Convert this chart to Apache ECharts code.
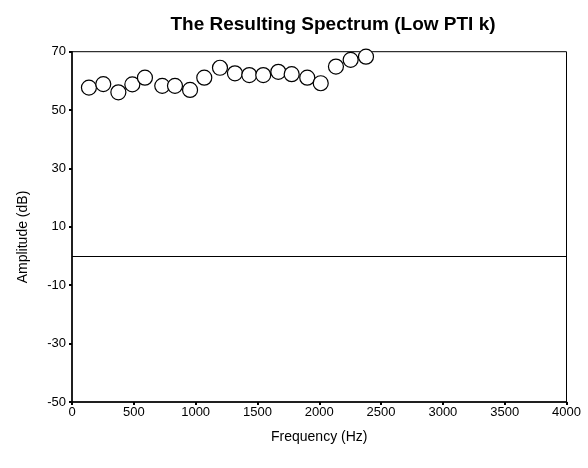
<!DOCTYPE html>
<html>
<head>
<meta charset="utf-8">
<script src="https://cdn.jsdelivr.net/npm/echarts@6/dist/echarts.min.js"></script>
<style>html,body{margin:0;padding:0;background:#fff}#c{width:588px;height:468px}</style>
</head>
<body>
<div id="c"></div>
<script>
var frequencies = [137, 253, 375, 488, 590, 730, 833, 955, 1070, 1197, 1318, 1434, 1547, 1669, 1777, 1903, 2012, 2135, 2254, 2378];
var amplitudes = [57.7, 58.9, 56.1, 58.8, 61.1, 58.3, 58.3, 56.9, 61.1, 64.5, 62.6, 62.0, 62.0, 63.1, 62.3, 61.1, 59.2, 64.9, 67.2, 68.3];
var yTicks = [-50, -30, -10, 10, 30, 50, 70];
var xTicks = [0, 500, 1000, 1500, 2000, 2500, 3000, 3500, 4000];

var points = frequencies.map(function (f, i) { return [f, amplitudes[i]]; });
var font = 'Liberation Sans, Arial, sans-serif';
var chart = echarts.init(document.getElementById('c'));
chart.setOption({
  animation: false,
  backgroundColor: '#fff',
  title: {
    text: 'The Resulting Spectrum (Low PTI k)',
    left: 328, top: 10, textAlign: 'center',
    textStyle: { fontFamily: font, fontSize: 19, fontWeight: 'bold', color: '#000' }
  },
  graphic: [{
    type: 'text', x: 23, y: 237, rotation: Math.PI / 2,
    style: { text: 'Amplitude (dB)', fontFamily: font, fontSize: 14, fill: '#000', align: 'center', verticalAlign: 'middle' }
  }],
  grid: { left: 72, right: 21.5, top: 51.7, bottom: 66, show: true, borderColor: '#000', borderWidth: 1 },
  xAxis: {
    type: 'value', min: xTicks[0], max: xTicks[xTicks.length - 1], interval: 500,
    name: 'Frequency (Hz)', nameLocation: 'middle', nameGap: 28,
    nameTextStyle: { fontFamily: font, fontSize: 14, color: '#000' },
    axisLine: { onZero: false, lineStyle: { color: '#000', width: 1.5 } },
    axisTick: { show: true, length: 3, lineStyle: { color: '#000', width: 2 } },
    axisLabel: { fontFamily: font, fontSize: 13, color: '#000', margin: 4, formatter: function (v) { return String(v); } },
    splitLine: { show: false }
  },
  yAxis: {
    type: 'value', min: yTicks[0], max: yTicks[yTicks.length - 1], interval: 20,
    axisLine: { show: true, onZero: false, lineStyle: { color: '#000', width: 1.5 } },
    axisTick: { show: true, length: 3, lineStyle: { color: '#000', width: 2 } },
    axisLabel: { fontFamily: font, fontSize: 13, color: '#000', margin: 6, formatter: function (v) { return String(v); } },
    splitLine: { show: false }
  },
  series: [{
    type: 'scatter',
    data: points,
    symbol: 'circle',
    symbolSize: 15,
    itemStyle: { color: '#fff', borderColor: '#000', borderWidth: 1.2, opacity: 1 },
    markLine: {
      silent: true, symbol: 'none', label: { show: false },
      lineStyle: { color: '#000', width: 1.2, type: 'solid' },
      data: [{ yAxis: 0 }]
    }
  }]
});
</script>
</body>
</html>
